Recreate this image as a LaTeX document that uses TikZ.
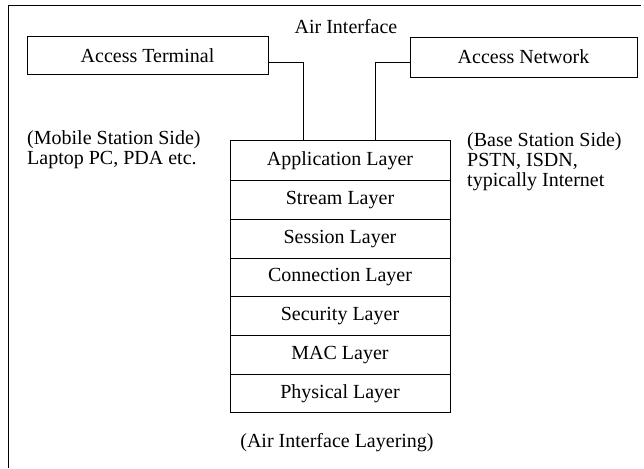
\documentclass[tikz,border=0pt]{standalone}
\usepackage{fontspec}
\setmainfont{Liberation Serif}
\usetikzlibrary{positioning}
\begin{document}
\begin{tikzpicture}[x=1pt,y=-1pt,
    font=\fontsize{20}{20}\selectfont,
    termbox/.style={draw,thick,minimum height=38pt,inner sep=0pt,outer sep=0pt},
    layerbox/.style={draw,thick,minimum width=220pt,minimum height=38.7pt,inner sep=0pt,outer sep=0pt}]
  \useasboundingbox (0,0) rectangle (644,468);
  \draw[thick] (8,468) -- (8,5) -- (641,5);
  \draw
    (346,27) node (air){Air Interface}
    (147.5,55.5) node[termbox,minimum width=241pt] (at){Access Terminal}
    (523.5,57) node[termbox,minimum width=227pt,minimum height=40pt] (an){Access Network}
    (27,150) node[anchor=west,align=left,inner sep=0pt] (mobile){(Mobile Station Side)\\Laptop PC, PDA etc.}
    (467,162) node[anchor=west,align=left,inner sep=0pt] (base){(Base Station Side)\\PSTN, ISDN,\\typically Internet}
    (340,160.5) node[layerbox,minimum height=40pt] (app){Application Layer};
  \node[layerbox,below=0pt of app] (stream){Stream Layer};
  \node[layerbox,below=0pt of stream] (session){Session Layer};
  \node[layerbox,below=0pt of session] (conn){Connection Layer};
  \node[layerbox,below=0pt of conn] (sec){Security Layer};
  \node[layerbox,below=0pt of sec] (mac){MAC Layer};
  \node[layerbox,below=0pt of mac] (phy){Physical Layer};
  \node (caption) at (337,443) {(Air Interface Layering)};
  \begin{scope}[thick]
    \draw ([yshift=-6.5pt]at.east) -| ([xshift=-37pt]app.north);
    \draw ([yshift=-5.5pt]an.west) -| ([xshift=35pt]app.north);
  \end{scope}
\end{tikzpicture}
\end{document}
